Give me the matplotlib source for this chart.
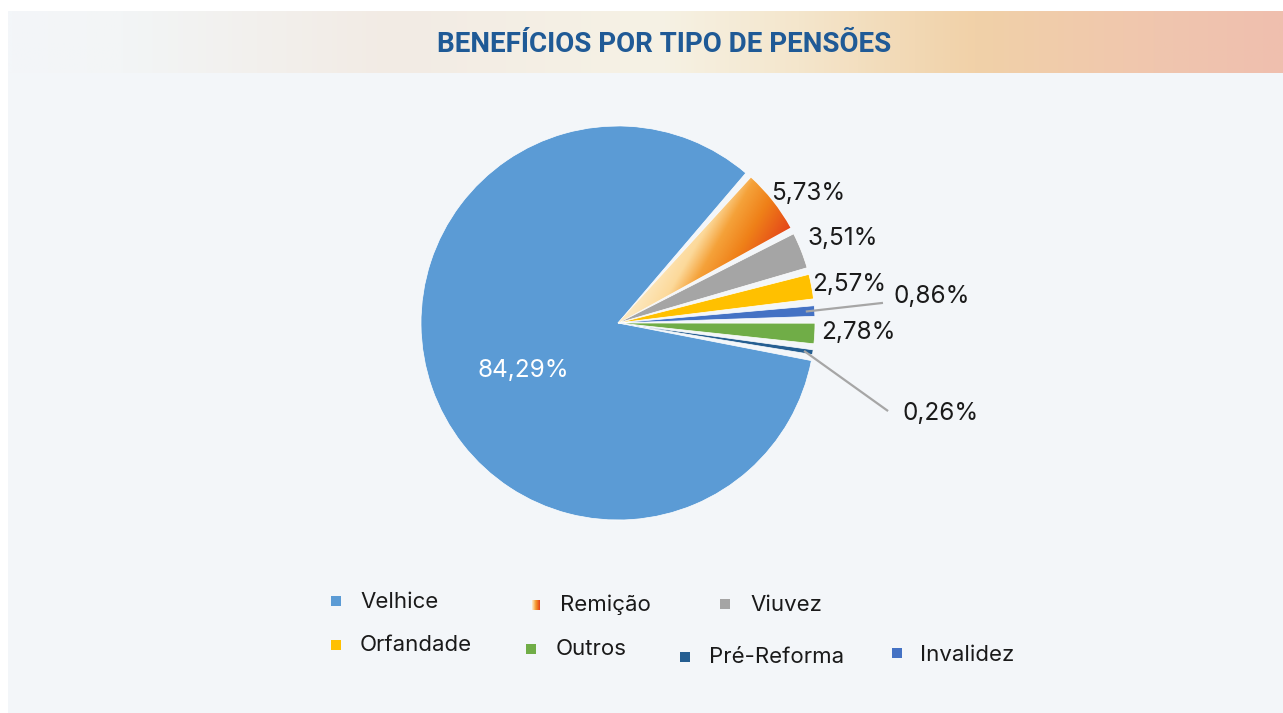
import numpy as np
import matplotlib
matplotlib.use("Agg")
import matplotlib.pyplot as plt
from matplotlib.patches import Rectangle
from matplotlib.colors import LinearSegmentedColormap

plt.rcParams["font.family"] = ["Inter", "DejaVu Sans"]

# data
categories = ["Velhice", "Remição", "Viuvez", "Orfandade", "Invalidez", "Outros", "Pré-Reforma"]
values = [84.29, 5.73, 3.51, 2.57, 0.86, 2.78, 0.26]
labels = ["84,29%", "5,73%", "3,51%", "2,57%", "0,86%", "2,78%", "0,26%"]
colors = ["#5B9BD5", "#F08A1C", "#A5A5A5", "#FFC000", "#4472C4", "#70AD47", "#255E91"]
legend_order = ["Velhice", "Remição", "Viuvez", "Orfandade", "Outros", "Pré-Reforma", "Invalidez"]

W, H = 1283, 713
bg = "#F3F6F9"
R_PX = 197  # pie radius in pixels
CX, CY = 618, 323

fig = plt.figure(figsize=(W / 100, H / 100), dpi=100)
fig.patch.set_facecolor("white")
fig.add_artist(Rectangle((8 / W, 0), 1 - 8 / W, 1 - 11 / H, transform=fig.transFigure,
                         facecolor=bg, edgecolor="none", zorder=0))

# title band with gradient
band = fig.add_axes([8 / W, 1 - 73 / H, 1 - 8 / W, 62 / H])
band_cmap = LinearSegmentedColormap.from_list("band", [
    (0.0, "#F3F6F9"), (0.09, "#F3F5F6"), (0.3, "#F2EBE4"), (0.51, "#F6F2E5"),
    (0.62, "#F4E6CC"), (0.76, "#F1D1A8"), (0.9, "#F0C6AE"), (1.0, "#EFBFAE")])
band.imshow(np.linspace(0, 1, 512)[None, :], aspect="auto", cmap=band_cmap, extent=[0, 1, 0, 1])
band.set_axis_off()
fig.text(664 / W, 1 - 45 / H, "BENEFÍCIOS POR TIPO DE PENSÕES", ha="center", va="center",
         fontsize=20, fontweight="bold", color="#1F5A96", family=["Roboto", "DejaVu Sans"])

# pie
half = 300
ax = fig.add_axes([(CX - half) / W, (H - CY - half) / H, 2 * half / W, 2 * half / H])
wedges, _ = ax.pie(values, colors=colors, startangle=-9, counterclock=False,
                   wedgeprops=dict(edgecolor="white", linewidth=0.5))
lim = half / R_PX
ax.set_xlim(-lim, lim)
ax.set_ylim(-lim, lim)
ax.set_aspect("equal")
ax.patch.set_visible(False)

mids = [(w.theta1 + w.theta2) / 2 for w in wedges]

# angular gaps between neighbours, taken from the larger slice of each pair
gap = 2.0
n = len(wedges)
t1s = [w.theta1 for w in wedges]
t2s = [w.theta2 for w in wedges]
for i in range(n):
    j = (i + 1) % n
    if values[i] >= values[j]:
        t1s[i] += gap
    else:
        t2s[j] -= gap
min_vis = 1.4
for w, a, b in zip(wedges, t1s, t2s):
    if b - a < min_vis:
        m = (a + b) / 2
        a, b = m - min_vis / 2, m + min_vis / 2
    w.set_theta1(a)
    w.set_theta2(b)

# gradient fill for Remição
rem = wedges[categories.index("Remição")]
rem.set_facecolor("none")
rem_cmap = LinearSegmentedColormap.from_list("rem", [
    (0.0, "#FDEBC6"), (0.28, "#FCD99A"), (0.45, "#F5A23A"), (0.68, "#EF8018"), (1.0, "#E4441A")])
gx, gy = np.meshgrid(np.linspace(0, 1.05, 300), np.linspace(0, 1.05, 300))
ang = np.deg2rad(-30)
grad = gx * np.cos(ang) + gy * np.sin(ang)
im = ax.imshow(grad, origin="lower", extent=[0, 1.05, 0, 1.05], cmap=rem_cmap,
               vmin=0.0, vmax=0.52, zorder=1)
im.set_clip_path(rem)
ax.set_xlim(-lim, lim)
ax.set_ylim(-lim, lim)

# labels: radius and angle shift from wedge middle
label_r = [0.54, 1.17, 1.22, 1.19, 1.403, 1.22, 1.517]
label_shift = [7.3, -3.0, -0.1, -0.1, 2.0, 0.7, -9.0]
label_ha = ["center", "center", "center", "center", "left", "center", "left"]
leader = {4: (1.349, 4.34), 6: (1.442, -18.06)}
for i, w in enumerate(wedges):
    mid = mids[i]
    a = np.deg2rad(mid + label_shift[i])
    x, y = label_r[i] * np.cos(a), label_r[i] * np.sin(a)
    col = "white" if i == 0 else "#1A1A1A"
    ax.text(x, y, labels[i], ha=label_ha[i], va="center", fontsize=17.5, color=col)
    if i in leader:
        r2, a2 = leader[i]
        m = np.deg2rad(mid)
        ax.plot([0.955 * np.cos(m), r2 * np.cos(np.deg2rad(a2))],
                [0.955 * np.sin(m), r2 * np.sin(np.deg2rad(a2))],
                color="#A6A6A6", lw=1.6, solid_capstyle="butt", zorder=3)

# legend (manual placement, like the original)
leg_pos = {"Velhice": (331, 601, 360, 602), "Remição": (532, 605, 560, 605),
           "Viuvez": (720, 604, 750, 605), "Orfandade": (331, 645, 360, 645),
           "Outros": (526, 649, 556, 649), "Pré-Reforma": (680, 657, 709, 657),
           "Invalidez": (892, 653, 920, 655)}
for name in legend_order:
    mx, my, tx, ty = leg_pos[name]
    c = colors[categories.index(name)]
    if name == "Remição":
        mk = fig.add_axes([mx / W, (H - my - 5) / H, 8 / W, 10 / H])
        mk.imshow(np.linspace(0, 1, 20)[None, :], aspect="auto",
                  cmap=LinearSegmentedColormap.from_list("m", ["#FCEBCB", "#F4962A", "#E4441A"]))
        mk.set_axis_off()
    else:
        fig.add_artist(Rectangle((mx / W, (H - my - 5) / H), 10 / W, 10 / H,
                                 transform=fig.transFigure, facecolor=c, edgecolor="none"))
    fig.text(tx / W, 1 - ty / H, name, ha="left", va="center", fontsize=16, color="#1A1A1A")

fig.savefig("out.png", dpi=100, facecolor=fig.get_facecolor())
